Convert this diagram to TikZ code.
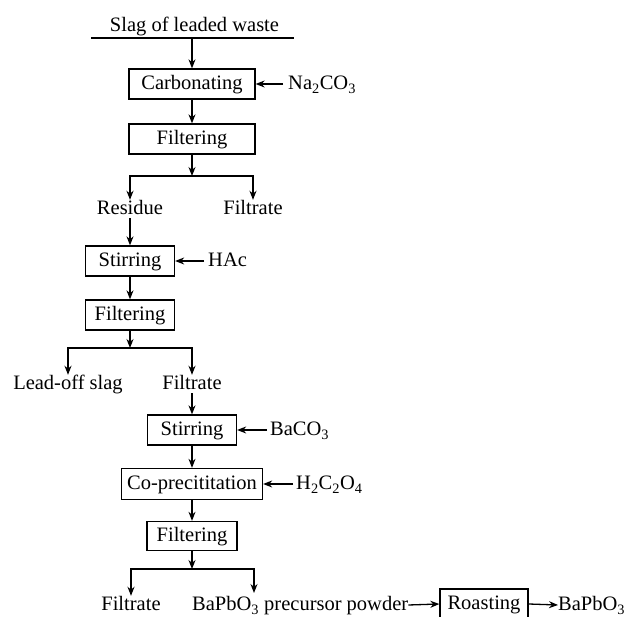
\documentclass[tikz,border=0pt]{standalone}
\usepackage{fontspec}
\setmainfont{Liberation Serif}
\usetikzlibrary{arrows.meta}
\begin{document}
\begin{tikzpicture}[x=1pt,y=-1pt,
  every node/.style={font=\fontsize{20.5}{24}\selectfont, text height=13pt, text depth=1pt},
  proc/.style={draw, line width=1.3pt, inner sep=0pt, minimum height=30pt},
  lbl/.style={inner xsep=0pt, inner ysep=2pt, anchor=base},
  arr/.style={line width=1.3pt, -{Stealth[length=9pt,width=7pt]}},
  ln/.style={line width=1.3pt}]
\useasboundingbox (0,0) rectangle (625,617);
\clip (0,0) rectangle (625,617);
% top
\node[lbl] (src) at (194.5,32) {Slag of leaded waste};
\coordinate (srcL) at (91,38);
\coordinate (srcR) at (294,38);
\coordinate (srcM) at (192,38);
\draw[ln] (srcL) -- (srcR);
\node[proc, minimum width=126pt] (carb) at (192,84) {Carbonating};
\draw[arr] (srcM) -- (carb.north);
\node[lbl, anchor=base west] (na) at (288,90) {Na\textsubscript{2}CO\textsubscript{3}};
\draw[arr] ([xshift=-5pt]na.west) -- (carb.east);
\node[proc, minimum width=126pt] (filt1) at (192,139) {Filtering};
\draw[arr] (carb) -- (filt1);
\coordinate (j1) at (192,176);
\draw[arr] (filt1) -- (j1);
\node[lbl] (res) at (130,215) {Residue};
\node[lbl] (fil1) at (253,215) {Filtrate};
\draw[arr] (j1) -| (res.north);
\draw[arr] (j1) -| (fil1.north);
% middle
\node[proc, minimum width=89pt] (stir1) at (130,261) {Stirring};
\draw[arr] (res.south) -- (stir1.north);
\node[lbl, anchor=base west] (hac) at (208,267) {HAc};
\draw[arr] ([xshift=-4pt]hac.west) -- (stir1.east);
\node[proc, minimum width=89pt] (filt2) at (130,315) {Filtering};
\draw[arr] (stir1) -- (filt2);
\coordinate (j2) at (130,348);
\draw[arr] (filt2) -- (j2);
\node[lbl] (lead) at (68,390) {Lead-off slag};
\node[lbl] (fil2) at (192,390) {Filtrate};
\draw[arr] (j2) -| (lead.north);
\draw[arr] (j2) -| (fil2.north);
% lower
\node[proc, minimum width=89pt] (stir2) at (192,430) {Stirring};
\draw[arr] (fil2.south) -- (stir2.north);
\node[lbl, anchor=base west] (bac) at (270,436) {BaCO\textsubscript{3}};
\draw[arr] ([xshift=-3pt]bac.west) -- (stir2.east);
\node[proc, minimum width=141pt, minimum height=31pt] (cop) at (192,484) {Co-precititation};
\draw[arr] (stir2) -- (cop);
\node[lbl, anchor=base west] (ox) at (296,490) {H\textsubscript{2}C\textsubscript{2}O\textsubscript{4}};
\draw[arr] ([xshift=-3pt]ox.west) -- (cop.east);
\node[proc, minimum width=90pt, minimum height=29pt] (filt3) at (192,536) {Filtering};
\draw[arr] (cop) -- (filt3);
\coordinate (j3) at (192,569);
\draw[arr] (filt3) -- (j3);
\node[lbl] (fil3) at (131,611) {Filtrate};
\node[lbl, anchor=base west] (bp) at (192,611) {BaPbO\textsubscript{3} precursor powder};
\coordinate (bpin) at (254,593);
\draw[arr] (j3) -| (fil3.north);
\draw[arr] (j3) -| (bpin);
\node[proc, minimum width=88pt] (roast) at (484,604) {Roasting};
\draw[arr] (bp.east) -- (roast.west);
\node[lbl, anchor=base west] (out) at (558,611) {BaPbO\textsubscript{3}};
\draw[arr] (roast.east) -- (out.west);
\end{tikzpicture}
\end{document}
